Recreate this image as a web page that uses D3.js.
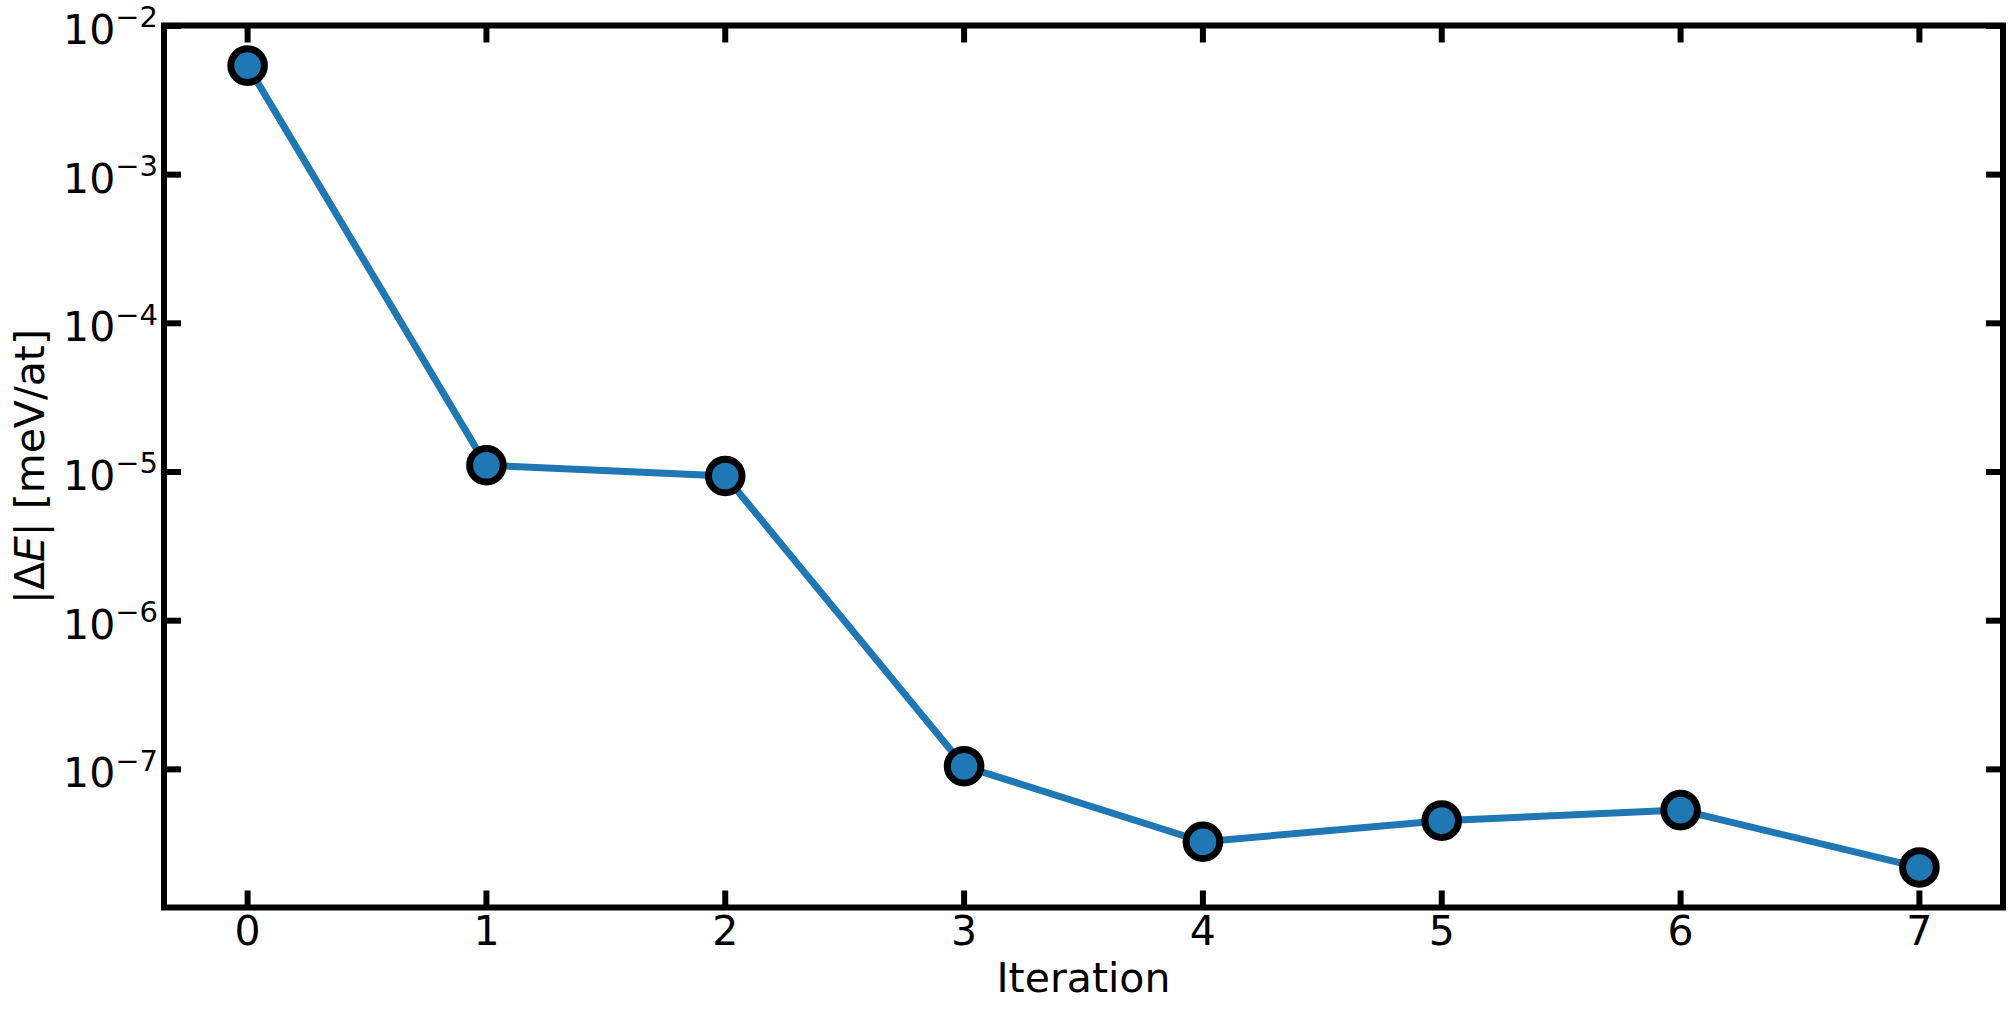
<!DOCTYPE html>
<html>
<head>
<meta charset="utf-8">
<script src="https://cdn.jsdelivr.net/npm/d3@7"></script>
<style>
  body { margin: 0; background: #fff; }
  text { font-family: "DejaVu Sans", sans-serif; fill: #000; }
</style>
</head>
<body>
<div id="chart"></div>
<script>
// data
var iterations = [0, 1, 2, 3, 4, 5, 6, 7];
var deltaE = [5.41e-3, 1.11e-5, 9.4e-6, 1.05e-7, 3.26e-8, 4.52e-8, 5.32e-8, 2.19e-8];
var yTickExps = [-2, -3, -4, -5, -6, -7];

var width = 2011, height = 1011;
// plot box (window.top is reserved, so use other names)
var plotLeft = 164, plotRight = 2003, plotTop = 25.5, plotBottom = 907.5;

var svg = d3.select('#chart').append('svg')
    .attr('width', width)
    .attr('height', height);

var x = d3.scaleLinear().domain([-0.35, 7.35]).range([plotLeft, plotRight]);
var y = d3.scaleLog().domain([Math.pow(10, -7.929), Math.pow(10, -1.997)]).range([plotBottom, plotTop]);

var tickLen = 17, tickW = 6;

// x ticks, bottom and top, pointing inward
iterations.forEach(function(d) {
    svg.append('line').attr('x1', x(d)).attr('x2', x(d))
        .attr('y1', plotBottom).attr('y2', plotBottom - tickLen)
        .attr('stroke', '#000').attr('stroke-width', tickW);
    svg.append('line').attr('x1', x(d)).attr('x2', x(d))
        .attr('y1', plotTop).attr('y2', plotTop + tickLen)
        .attr('stroke', '#000').attr('stroke-width', tickW);
    svg.append('text')
        .attr('x', x(d)).attr('y', plotBottom + 37.5)
        .attr('text-anchor', 'middle')
        .attr('font-size', 41)
        .text(d);
});

// y ticks, left and right, with 10^n labels
yTickExps.forEach(function(e) {
    var yy = y(Math.pow(10, e));
    svg.append('line').attr('x1', plotLeft).attr('x2', plotLeft + tickLen)
        .attr('y1', yy).attr('y2', yy)
        .attr('stroke', '#000').attr('stroke-width', tickW);
    svg.append('line').attr('x1', plotRight).attr('x2', plotRight - tickLen)
        .attr('y1', yy).attr('y2', yy)
        .attr('stroke', '#000').attr('stroke-width', tickW);
    var t = svg.append('text')
        .attr('x', 158).attr('y', yy + 18)
        .attr('text-anchor', 'end')
        .attr('font-size', 41);
    t.append('tspan').text('10');
    t.append('tspan').attr('font-size', 29).attr('dy', -16.6).text('\u2212' + (-e));
});

// line + markers
var line = d3.line()
    .x(function(d, i) { return x(iterations[i]); })
    .y(function(d) { return y(d); });

svg.append('path')
    .datum(deltaE)
    .attr('d', line)
    .attr('fill', 'none')
    .attr('stroke', '#1f77b4')
    .attr('stroke-width', 7);

svg.selectAll('circle')
    .data(deltaE)
    .enter()
    .append('circle')
    .attr('cx', function(d, i) { return x(iterations[i]); })
    .attr('cy', function(d) { return y(d); })
    .attr('r', 16.8)
    .attr('fill', '#1f77b4')
    .attr('stroke', '#000')
    .attr('stroke-width', 7);

// frame
svg.append('rect')
    .attr('x', plotLeft).attr('y', plotTop)
    .attr('width', plotRight - plotLeft).attr('height', plotBottom - plotTop)
    .attr('fill', 'none')
    .attr('stroke', '#000')
    .attr('stroke-width', 6);

// axis labels
svg.append('text')
    .attr('x', (plotLeft + plotRight) / 2).attr('y', 991.5)
    .attr('text-anchor', 'middle')
    .attr('font-size', 41)
    .text('Iteration');

var yl = svg.append('text')
    .attr('transform', 'translate(44,' + ((plotTop + plotBottom) / 2) + ') rotate(-90)')
    .attr('text-anchor', 'middle')
    .attr('font-size', 41);
yl.append('tspan').text('|\u0394');
yl.append('tspan').attr('font-style', 'italic').text('E');
yl.append('tspan').text('| [meV/at]');
</script>
</body>
</html>
